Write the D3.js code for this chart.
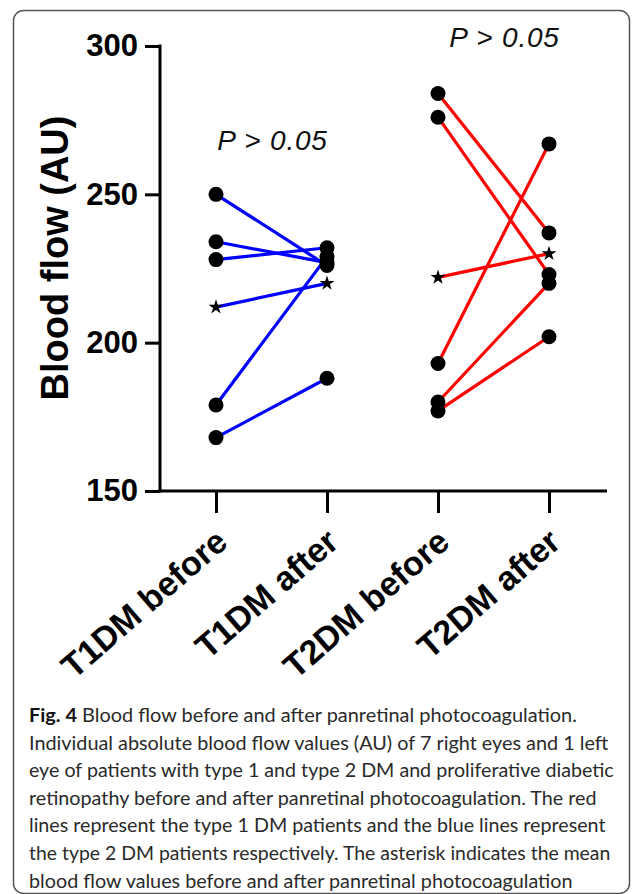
<!DOCTYPE html>
<html><head><meta charset="utf-8">
<script src="https://cdn.jsdelivr.net/npm/d3@7"></script>
<style>body{margin:0;background:#fff}svg{display:block}</style>
</head><body>
<svg id="c" width="634" height="894"></svg>
<script>
const categories = ["T1DM before", "T1DM after", "T2DM before", "T2DM after"];
const t1Before = [250, 234, 228, 179, 168];
const t1After  = [226, 227, 232, 229, 188];
const t1Mean   = [212, 220];
const t2Before = [284, 276, 193, 180, 177];
const t2After  = [237, 223, 267, 220, 202];
const t2Mean   = [222, 230];
const yTicks   = [150, 200, 250, 300];
const yTitle   = "Blood flow (AU)";
const pLabels  = ["P > 0.05", "P > 0.05"];
const captionBold = "Fig. 4";
const captionLines = [
  " Blood flow before and after panretinal photocoagulation.",
  "Individual absolute blood flow values (AU) of 7 right eyes and 1 left",
  "eye of patients with type 1 and type 2 DM and proliferative diabetic",
  "retinopathy before and after panretinal photocoagulation. The red",
  "lines represent the type 1 DM patients and the blue lines represent",
  "the type 2 DM patients respectively. The asterisk indicates the mean",
  "blood flow values before and after panretinal photocoagulation"
];

const svg = d3.select("#c");
const F = "'Liberation Sans', Arial, sans-serif";

// frame
svg.append("rect").attr("x", 13.5).attr("y", 10.5).attr("width", 616).attr("height", 883)
  .attr("rx", 10).attr("fill", "none").attr("stroke", "#555").attr("stroke-width", 1.5);

const y = d3.scaleLinear().domain([150, 300]).range([491, 46]);
const x = d3.scalePoint().domain(categories).range([216, 549]);

const groups = [
  {before: t1Before, after: t1After, mean: t1Mean, c0: categories[0], c1: categories[1], color: "#0000ff"},
  {before: t2Before, after: t2After, mean: t2Mean, c0: categories[2], c1: categories[3], color: "#ff0000"}
];

// y axis
const yAxis = svg.append("g").attr("transform", "translate(160,0)")
  .call(d3.axisLeft(y).tickValues(yTicks).tickSize(15).tickSizeOuter(0).tickPadding(7).tickFormat(d3.format("d")));
yAxis.select(".domain").remove();
yAxis.selectAll(".tick line").attr("stroke", "#000").attr("stroke-width", 3);
yAxis.selectAll(".tick text").attr("font-family", F).attr("font-weight", "bold").attr("font-size", 31).attr("fill", "#000");
svg.append("line").attr("x1", 160).attr("x2", 160).attr("y1", y(300) - 1.5).attr("y2", y(150) + 1.5)
  .attr("stroke", "#000").attr("stroke-width", 3);

// x axis
const xAxis = svg.append("g").attr("transform", `translate(0,${y(150)})`)
  .call(d3.axisBottom(x).tickSize(22).tickSizeOuter(0));
xAxis.select(".domain").remove();
xAxis.selectAll(".tick line").attr("stroke", "#000").attr("stroke-width", 3);
xAxis.selectAll(".tick text")
  .attr("font-family", F).attr("font-weight", "bold").attr("font-size", 34).attr("fill", "#000")
  .attr("text-anchor", "end").attr("y", 0).attr("dy", 0)
  .attr("transform", "translate(13,54) rotate(-41)");
svg.append("line").attr("x1", 158.5).attr("x2", 607).attr("y1", y(150)).attr("y2", y(150))
  .attr("stroke", "#000").attr("stroke-width", 3);

// y title
svg.append("text").attr("transform", `translate(68,${258}) rotate(-90)`)
  .attr("text-anchor", "middle").attr("font-family", F).attr("font-weight", "bold")
  .attr("font-size", 38).attr("fill", "#000").text(yTitle);

// lines & points
const star = d3.symbol().type(d3.symbolStar).size(70);
groups.forEach(g => {
  const pairs = g.before.map((b, i) => [b, g.after[i]]);
  pairs.push(g.mean);
  svg.append("g").selectAll("line").data(pairs).join("line")
    .attr("x1", x(g.c0)).attr("x2", x(g.c1))
    .attr("y1", d => y(d[0])).attr("y2", d => y(d[1]))
    .attr("stroke", g.color).attr("stroke-width", 3.2);
  const pts = g.before.map(v => ({c: g.c0, v})).concat(g.after.map(v => ({c: g.c1, v})));
  svg.append("g").selectAll("circle").data(pts).join("circle")
    .attr("cx", d => x(d.c)).attr("cy", d => y(d.v)).attr("r", 7.5).attr("fill", "#000");
  svg.append("g").selectAll("path").data([{c: g.c0, v: g.mean[0]}, {c: g.c1, v: g.mean[1]}]).join("path")
    .attr("d", star).attr("transform", d => `translate(${x(d.c)},${y(d.v)})`).attr("fill", "#000");
});

// P labels
const pPos = [[(x(categories[0]) + x(categories[1])) / 2 + 1, 150], [(x(categories[2]) + x(categories[3])) / 2 + 11, 47]];
pLabels.forEach((t, i) => {
  svg.append("text").attr("x", pPos[i][0]).attr("y", pPos[i][1]).attr("text-anchor", "middle")
    .attr("font-family", F).attr("font-style", "italic").attr("font-size", 28).attr("fill", "#111")
    .attr("letter-spacing", 0.8).text(t);
});

// caption
const capWidths = [548, 580, 585, 568, 577, 582, 544];
captionLines.forEach((t, i) => {
  const tx = svg.append("text").attr("font-family", "Lato, 'Open Sans', sans-serif").attr("font-size", 19).attr("fill", "#2a2a2a");
  if (i === 0) tx.append("tspan").attr("font-weight", "bold").attr("fill", "#111").text(captionBold);
  tx.append("tspan").text(t);
  const w = tx.node().getComputedTextLength();
  tx.attr("transform", `translate(29,${722 + 27.6 * i}) scale(${capWidths[i] / w},1)`);
});
</script>
</body></html>
